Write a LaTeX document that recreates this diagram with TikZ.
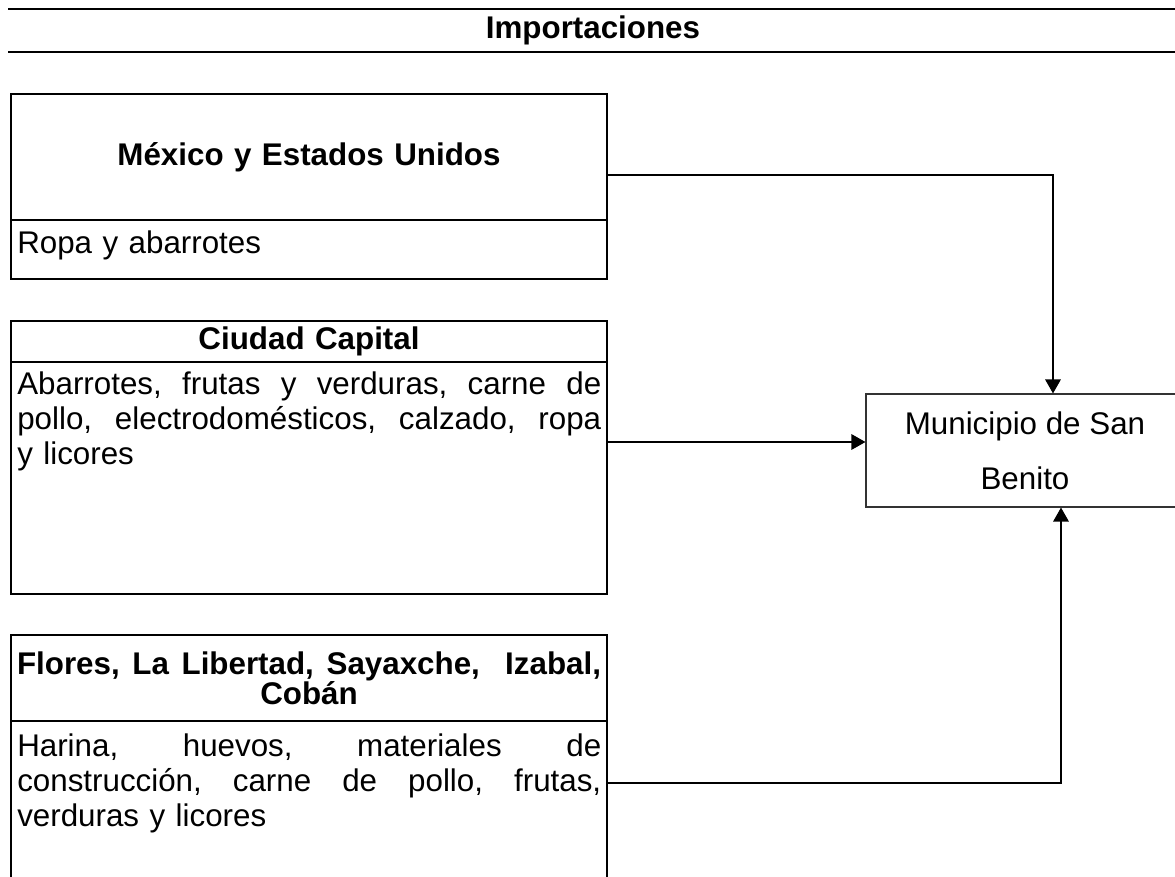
\documentclass[tikz,border=0pt]{standalone}
\usepackage{fontspec}
\setmainfont{Liberation Sans}
\usetikzlibrary{arrows.meta}
\newcommand{\jl}[1]{\leavevmode\hbox to 438pt{#1}}
\begin{document}
\begin{tikzpicture}[x=0.75pt,y=-0.75pt,
  rule/.style={line width=1.3pt},
  hdr/.style={draw, line width=1.25pt, minimum width=447pt, inner sep=0pt,
    text width=438pt, align=center, font=\fontsize{23.5}{22.5}\selectfont\bfseries},
  bodybox/.style={draw, line width=1.25pt, minimum width=447pt, inner sep=0pt},
  bodytxt/.style={inner sep=0pt, text width=438pt, align=left,
    font=\fontsize{23.5}{26.25}\selectfont},
  conn/.style={line width=1.5pt},
  arr/.style={-{Triangle[length=10.5pt,width=11.5pt]}}]
\useasboundingbox (0,0) rectangle (1175,877);
\clip (0,0) rectangle (1175,877);
% title
\coordinate (r1a) at (8,9);
\coordinate (r1b) at (1175,9);
\coordinate (r2a) at (8,52);
\coordinate (r2b) at (1175,52);
\draw[rule] (r1a) -- (r1b);
\draw[rule] (r2a) -- (r2b);
\node[inner sep=0pt, font=\fontsize{23.5}{24}\selectfont\bfseries] (title) at (593,30) {Importaciones};
% box 1
\node[hdr, minimum height=94.5pt] (mxh) at (309,157) {México y Estados Unidos};
\node[bodybox, minimum height=44.25pt] (mxb) at (309,249.5) {};
\node[bodytxt, anchor=base west] (mxt) at (17,254) {Ropa y abarrotes};
% box 2
\node[hdr, minimum height=30.75pt] (cch) at (309,341.5) {Ciudad Capital};
\node[bodybox, minimum height=174pt] (ccb) at (309,478) {};
\node[bodytxt, anchor=base west] (cct) at (17,394)
  {\jl{Abarrotes,\hfill frutas\hfill y\hfill verduras,\hfill carne\hfill de}\\
   \jl{pollo,\hfill electrodomésticos,\hfill calzado,\hfill ropa}\\y licores};
% box 3
\node[hdr, minimum height=64.5pt] (flh) at (309,678)
  {\jl{Flores,\hfill La\hfill Libertad,\hfill Sayaxche,\hfill\hfill Izabal,}\\Cobán};
\node[bodybox, minimum height=134.25pt] (flb) at (309,810.5) {};
\node[bodytxt, anchor=base west] (flt) at (17,756)
  {\jl{Harina,\hfill huevos,\hfill materiales\hfill de}\\
   \jl{construcción,\hfill carne\hfill de\hfill pollo,\hfill frutas,}\\verduras y licores};
% target
\node[draw=black!80, line width=0.8pt, minimum width=238.5pt, minimum height=84.75pt,
  align=center, inner sep=0pt, font=\fontsize{23.5}{41.25}\selectfont] (sb) at (1025,450.5) {Municipio de San\\Benito};
% connectors
\coordinate (j1) at (1053,175);
\coordinate (j2) at (866,442);
\coordinate (j3) at (1061,783);
\draw[conn, arr] (mxh.east |- j1) -- (j1) -- (j1 |- sb.north);
\draw[conn, arr] (ccb.east |- j2) -- (sb.west |- j2);
\draw[conn, arr] (flb.east |- j3) -- (j3) -- (j3 |- sb.south);
\end{tikzpicture}
\end{document}
